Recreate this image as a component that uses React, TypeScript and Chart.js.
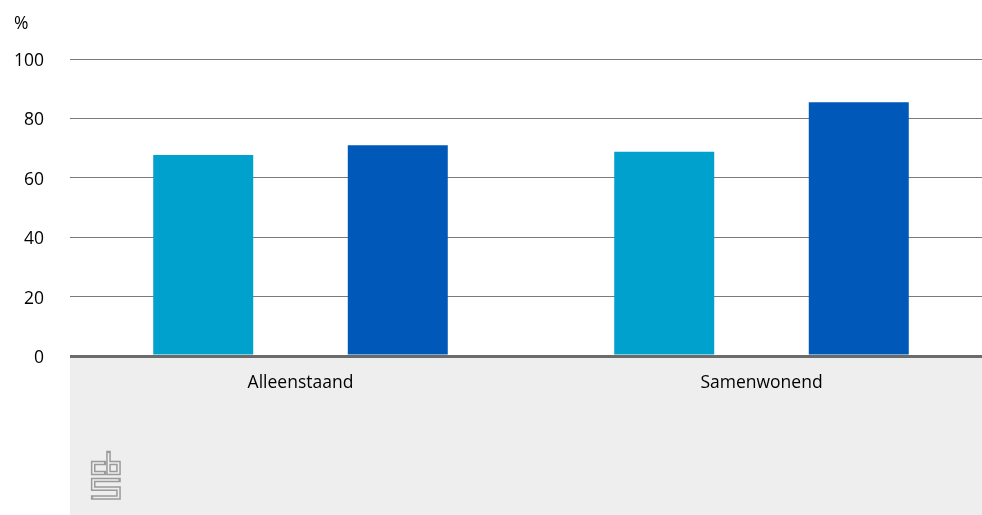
import React, { useEffect, useRef } from "react";
import { Chart, registerables } from "chart.js";

Chart.register(...registerables);

const categories = ["Alleenstaand", "Samenwonend"];
const seriesLight = [67.7, 68.8];
const seriesDark = [71.0, 85.4];
const yTicks = [0, 20, 40, 60, 80, 100];
const yUnit = "%";

const FONT = "'Open Sans', 'Noto Sans', sans-serif";

const backgroundPlugin = {
  id: "cbsBackground",
  beforeDraw(chart: any) {
    const { ctx, chartArea } = chart;
    ctx.save();
    ctx.fillStyle = "#eeeeee";
    ctx.fillRect(chartArea.left, chartArea.bottom, chart.width - chartArea.left, chart.height - chartArea.bottom);
    ctx.restore();
  },
  afterDraw(chart: any) {
    const { ctx, chartArea } = chart;
    ctx.save();
    // unit label
    ctx.fillStyle = "#000";
    ctx.font = `17.5px ${FONT}`;
    ctx.textAlign = "left";
    ctx.textBaseline = "alphabetic";
    ctx.fillText(yUnit, 14, 29);
    // CBS logo
    const ox = chartArea.left;
    const oy = chartArea.bottom;
    const paths: number[][][] = [
      [[34, 107], [23.2, 107], [23.2, 117], [34, 117]],
      [[38.5, 97], [38.5, 117], [48.5, 117], [48.5, 107], [38.5, 107]],
      [[48.5, 124], [23.2, 124], [23.2, 132.6], [48.5, 132.6], [48.5, 141.5], [23.2, 141.5]],
    ];
    const strokeAll = (w: number, color: string, cap: CanvasLineCap) => {
      ctx.lineWidth = w;
      ctx.strokeStyle = color;
      ctx.lineCap = cap;
      ctx.lineJoin = "miter";
      for (const p of paths) {
        ctx.beginPath();
        p.forEach(([x, y], i) => (i === 0 ? ctx.moveTo(ox + x, oy + y) : ctx.lineTo(ox + x, oy + y)));
        ctx.stroke();
      }
    };
    strokeAll(4.6, "#9a9a9a", "square");
    strokeAll(1.6, "#eeeeee", "butt");
    ctx.restore();
  },
};

export default function App() {
  const ref = useRef<HTMLCanvasElement | null>(null);
  useEffect(() => {
    if (!ref.current) return;
    const chart = new Chart(ref.current, {
      type: "bar",
      data: {
        labels: categories,
        datasets: [
          { data: seriesLight, backgroundColor: "#00a1cd", borderWidth: 0 },
          { data: seriesDark, backgroundColor: "#0058b8", borderWidth: 0 },
        ],
      },
      options: {
        animation: false,
        responsive: false,
        layout: { padding: { top: 59, left: 0, right: 0, bottom: 0 } },
        datasets: { bar: { categoryPercentage: 0.844, barPercentage: 0.514 } },
        plugins: { legend: { display: false }, tooltip: { enabled: false }, title: { display: false } },
        scales: {
          x: {
            grid: { display: false },
            border: { display: false },
            ticks: { color: "#000", font: { family: FONT, size: 17.5 }, padding: 9 },
            afterFit: (s: any) => {
              s.height = 159;
            },
          },
          y: {
            min: 0,
            max: 100,
            afterBuildTicks: (s: any) => {
              s.ticks = yTicks.map((v) => ({ value: v }));
            },
            border: { display: false },
            grid: {
              drawTicks: false,
              color: (c: any) => (c.tick && c.tick.value === 0 ? "#6b6b6b" : "#7a7a7a"),
              lineWidth: (c: any) => (c.tick && c.tick.value === 0 ? 3 : 1),
            },
            ticks: { color: "#000", font: { family: FONT, size: 17.5 }, padding: 26, labelOffset: 2 },
            afterFit: (s: any) => {
              s.width = 70;
            },
          },
        },
      },
      plugins: [backgroundPlugin],
    });
    return () => chart.destroy();
  }, []);
  return (
    <div style={{ position: "absolute", left: 0, top: 0, width: 982, height: 515, overflow: "hidden", background: "#fff" }}>
      <canvas ref={ref} width={992} height={515} style={{ display: "block", width: 992, height: 515 }} />
    </div>
  );
}
